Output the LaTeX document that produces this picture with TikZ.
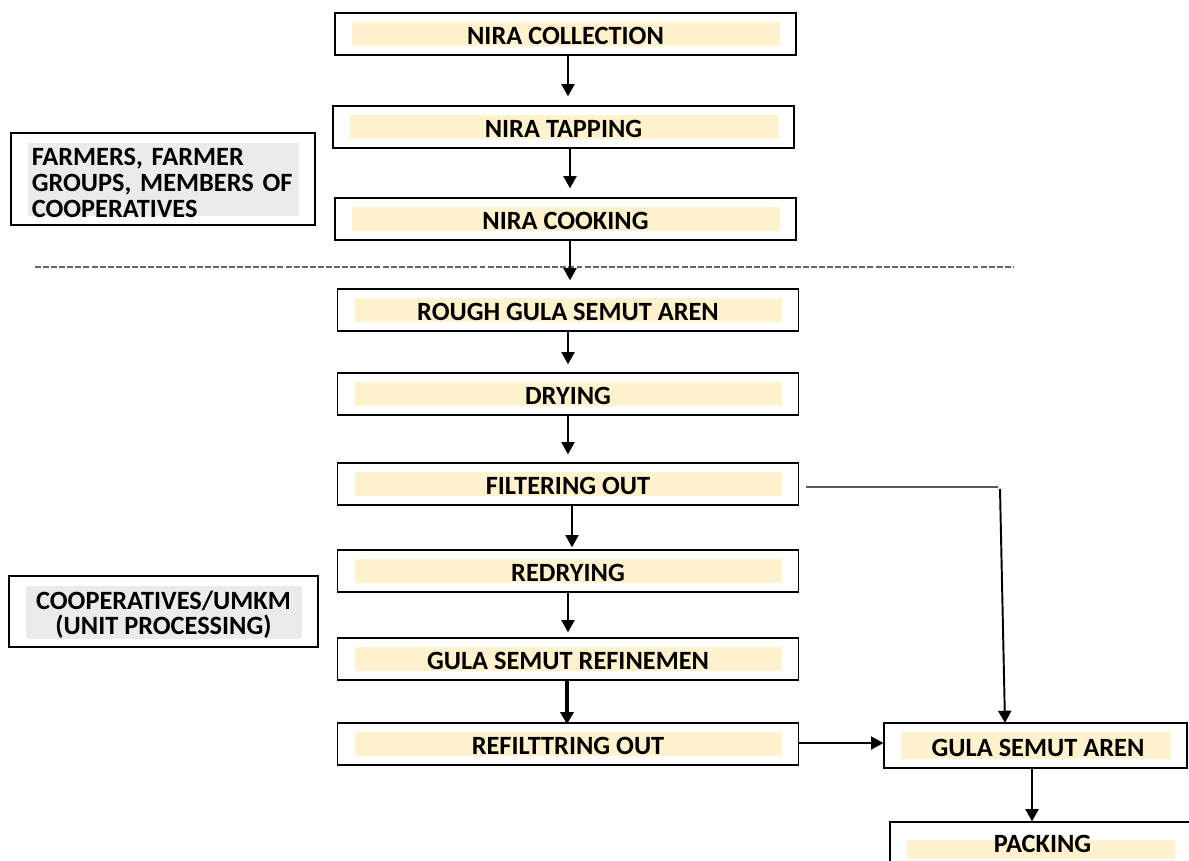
\documentclass[tikz,border=0pt]{standalone}
\usepackage{fontspec}
\setmainfont{Carlito}
\usetikzlibrary{arrows.meta,calc}
\definecolor{cream}{HTML}{FFF2CC}
\definecolor{lgrey}{HTML}{EBEBEB}
\definecolor{dashgrey}{HTML}{666666}
\newcommand{\stepfont}{\fontsize{15}{14.6}\selectfont\bfseries}
\begin{document}
\begin{tikzpicture}[x=0.02cm,y=-0.02cm,
  stepbox/.style={draw=black, line width=0.8pt, minimum width=9.22cm, minimum height=0.84cm,
    inner sep=0pt, font=\stepfont, text height=0.42cm, text depth=0cm,
    path picture={\fill[cream] ([shift={(0.34cm,0.18cm)}]path picture bounding box.south west)
      rectangle ([shift={(-0.32cm,-0.18cm)}]path picture bounding box.north east);}},
  sidebox/.style={draw=black, line width=0.8pt, inner sep=0pt, font=\stepfont,
    path picture={\fill[lgrey] ([shift={(0.34cm,0.17cm)}]path picture bounding box.south west)
      rectangle ([shift={(-0.32cm,-0.2cm)}]path picture bounding box.north east);}},
  arr/.style={line width=1.1pt, -{Triangle[width=7.5pt,length=7pt]}},
  plain/.style={line width=0.7pt}
]
\useasboundingbox (0,0) rectangle (1189,861);

% main column
\node[stepbox] (n1) at (565.5,34) {NIRA COLLECTION};
\node[stepbox] (n2) at (563.5,127) {NIRA TAPPING};
\node[stepbox] (n3) at (565.5,219) {NIRA COOKING};
\node[stepbox] (n4) at (568,310) {ROUGH GULA SEMUT AREN};
\node[stepbox] (n5) at (568,394) {DRYING};
\node[stepbox] (n6) at (568,484) {FILTERING OUT};
\node[stepbox] (n7) at (568,571) {REDRYING};
\node[stepbox] (n8) at (568,659) {GULA SEMUT REFINEMEN};
\node[stepbox] (n9) at (568,744) {REFILTTRING OUT};

% right column
\node[stepbox, minimum width=6.06cm, minimum height=0.9cm] (n10) at (1035.5,745.5) {\hspace*{0.1cm}GULA SEMUT AREN};
\node[draw=black, line width=0.8pt, minimum width=6.1cm, minimum height=0.9cm, inner sep=0pt,
  font=\stepfont,
  path picture={\fill[cream] ([shift={(0.34cm,0.16cm)}]path picture bounding box.south west)
      rectangle ([shift={(-0.4cm,-0.36cm)}]path picture bounding box.north east);}]
  (n11) at (1042.5,844.5) {\raisebox{0.04cm}{PACKING}};

% side boxes
\node[sidebox, minimum width=6.08cm, minimum height=1.84cm, align=left, text width=5.25cm] (s1) at (163,179)
  {\rule{0pt}{0.5cm}FARMERS, FARMER\\GROUPS, MEMBERS OF\\COOPERATIVES};
\node[sidebox, minimum width=6.18cm, minimum height=1.42cm, align=center] (s2) at (163.5,611.5)
  {\rule{0pt}{0.5cm}COOPERATIVES/UMKM\\(UNIT PROCESSING)};

% dashed separator
\coordinate (dl) at (35,267);
\coordinate (dr) at (1013,267);
\draw[dashgrey, line width=0.6pt, dash pattern=on 3.4pt off 1.2pt] (dl) -- (dr);

% arrows
\draw[arr, shorten >=0.18cm] ([xshift=0.05cm]n1.south) -- ([xshift=0.05cm]n1.south |- n2.north);
\draw[arr, shorten >=0.18cm] ([xshift=0.13cm]n2.south) -- ([xshift=0.13cm]n2.south |- n3.north);
\draw[arr, shorten >=0.16cm] ([xshift=0.09cm]n3.south) -- ([xshift=0.09cm]n3.south |- n4.north);
\draw[arr, shorten >=0.16cm] (n4.south) -- (n5.north);
\draw[arr, shorten >=0.16cm] (n5.south) -- (n6.north);
\draw[arr, shorten >=0.04cm] ([xshift=0.08cm]n6.south) -- ([xshift=0.08cm]n7.north);
\draw[arr, shorten >=0.1cm] (n7.south) -- (n8.north);
\draw[arr, line width=1.8pt] ([xshift=-0.02cm]n8.south) -- ([xshift=-0.02cm,yshift=-0.04cm]n9.north);

% side branch from FILTERING OUT
\coordinate (c1) at (998,487);
\coordinate (c2) at (1000,489);
\coordinate (c3) at (1005,723);
\draw[plain] ([xshift=0.14cm,yshift=-0.06cm]n6.east) -- (c1);
\draw[arr] (c2) -- (c3);

\draw[arr, line width=0.8pt] ([yshift=0.02cm]n9.east) -- ([yshift=0.02cm]n9.east -| n10.west);
\draw[arr] ([xshift=-0.07cm]n10.south) -- ([xshift=-0.07cm]n10.south |- n11.north);
\end{tikzpicture}
\end{document}
